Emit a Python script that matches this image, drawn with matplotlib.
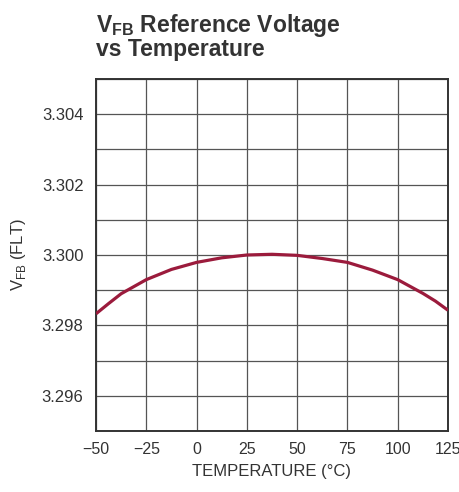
import matplotlib
matplotlib.use("Agg")
import matplotlib.pyplot as plt
import numpy as np

temps = [-50, -43.75, -37.5, -25, -12.5, 0, 12.5, 25, 37.5, 50, 62.5, 75, 87.5, 100, 112.5, 118.75, 125]
vfb = [3.29833, 3.29862, 3.29890, 3.29930, 3.29959, 3.29979, 3.29992, 3.30000, 3.30002,
       3.29999, 3.29990, 3.29979, 3.29957, 3.29930, 3.29891, 3.29869, 3.29843]
xticks = [-50, -25, 0, 25, 50, 75, 100, 125]
xticklabels = ["\u221250", "\u221225", "0", "25", "50", "75", "100", "125"]
yticks = [3.296, 3.298, 3.300, 3.302, 3.304]
yticklabels = ["3.296", "3.298", "3.300", "3.302", "3.304"]
yminor = [3.295, 3.297, 3.299, 3.301, 3.303, 3.305]

plt.rcParams['font.family'] = ['Liberation Sans', 'DejaVu Sans']
plt.rcParams['mathtext.fontset'] = 'custom'
plt.rcParams['mathtext.rm'] = 'Liberation Sans'
plt.rcParams['mathtext.bf'] = 'Liberation Sans:bold'

fig = plt.figure(figsize=(4.6, 4.92), dpi=100)
ax = fig.add_axes([96/460, 1-431/492, (448-96)/460, (431-79)/492])

ax.plot(temps, vfb, color="#9b1b3c", lw=2.3, solid_capstyle='butt',
        solid_joinstyle='round', zorder=3)
ax.set_xlim(-50, 125)
ax.set_ylim(3.295, 3.305)
ax.set_xticks(xticks)
ax.set_xticklabels(xticklabels, fontsize=11.5, color="#333333")
ax.set_yticks(yticks)
ax.set_yticklabels(yticklabels, fontsize=12, color="#333333")
ax.set_yticks(yminor, minor=True)
ax.tick_params(which='both', length=0)
ax.tick_params(axis='y', pad=9)
ax.tick_params(axis='x', pad=8)
ax.grid(True, which='both', color="#555555", lw=0.9)
ax.set_axisbelow(True)
for s in ax.spines.values():
    s.set_color("#333333")
    s.set_linewidth(1.4)

ax.set_xlabel("TEMPERATURE (\u00b0C)", fontsize=12, color="#333333", labelpad=5)
ax.set_ylabel(r"V$_{\mathregular{FB}}$ (FLT)", fontsize=12, color="#333333", labelpad=10)

tfont = dict(fontweight='bold', fontsize=16.5, color="#333333")
fig.text(96/460, 1-32/492, r"V$_{\mathbf{FB}}$ Reference Voltage", ha='left', va='baseline', **tfont)
fig.text(96/460, 1-56/492, "vs Temperature", ha='left', va='baseline', **tfont)

fig.savefig("out.png", dpi=100)
